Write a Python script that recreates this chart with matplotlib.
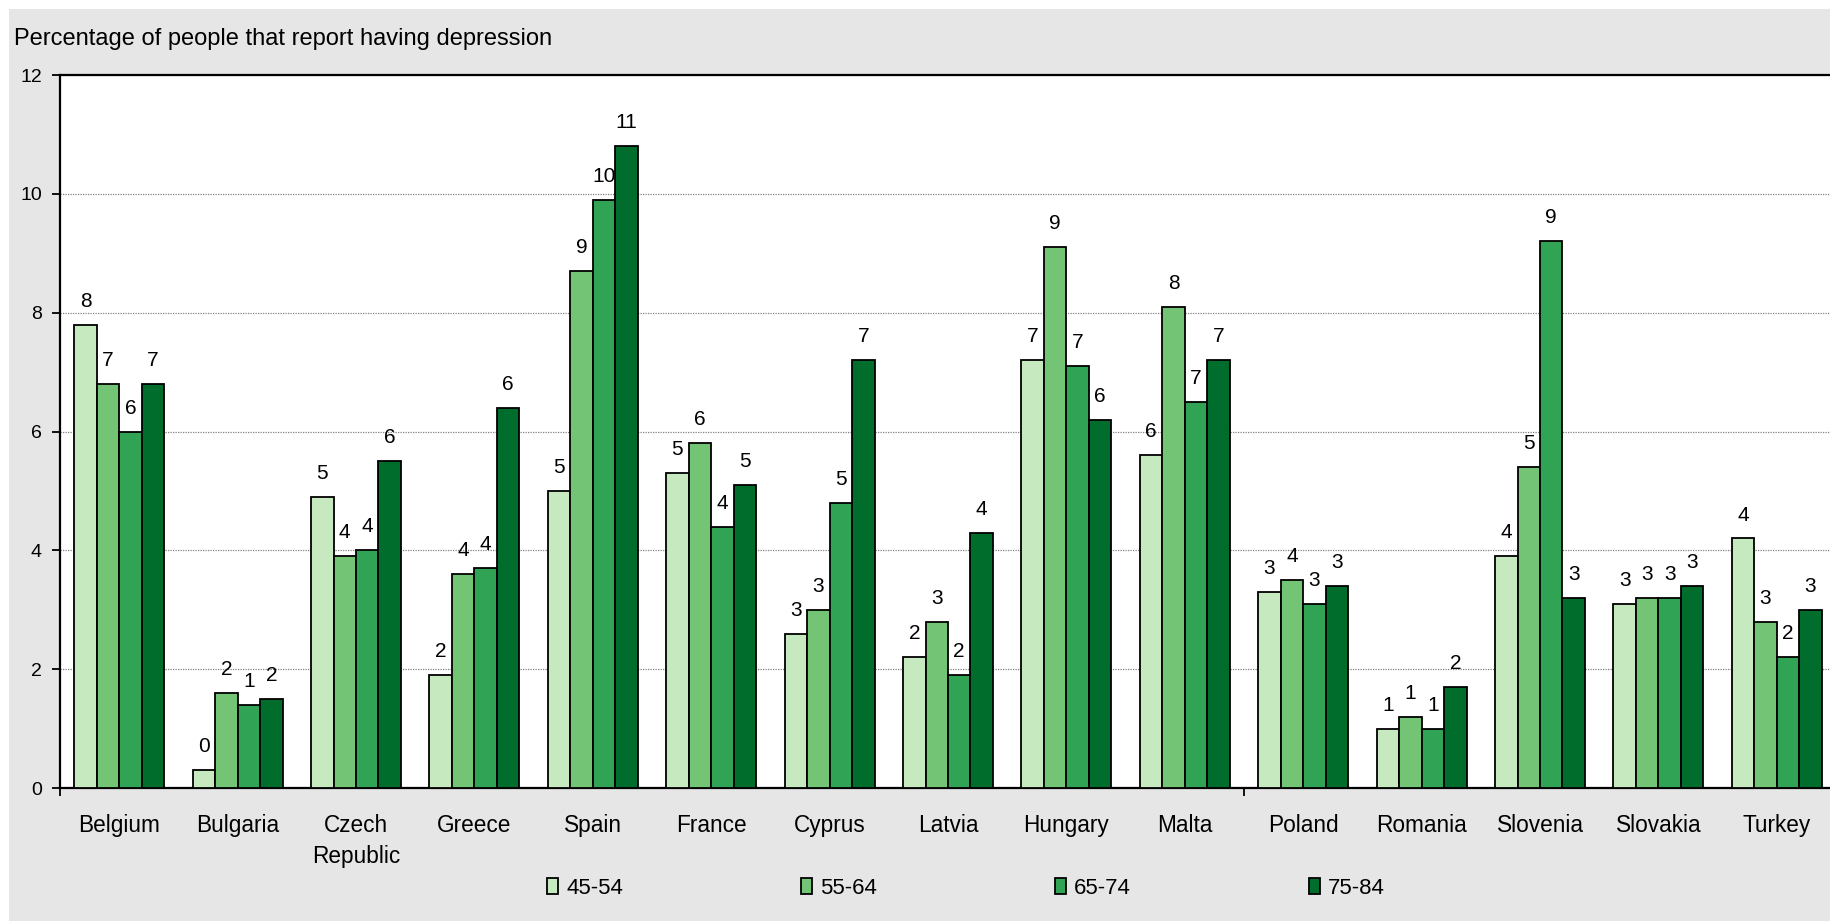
import matplotlib.pyplot as plt
from matplotlib.patches import Rectangle
import numpy as np

plt.rcParams['font.family'] = ['Liberation Sans', 'DejaVu Sans']

countries = ['Belgium', 'Bulgaria', 'Czech\nRepublic', 'Greece', 'Spain', 'France',
             'Cyprus', 'Latvia', 'Hungary', 'Malta', 'Poland', 'Romania',
             'Slovenia', 'Slovakia', 'Turkey']
age_groups = ['45-54', '55-64', '65-74', '75-84']

# Share of people reporting depression (%), by age group
age_45_54 = [7.8, 0.3, 4.9, 1.9, 5.0, 5.3, 2.6, 2.2, 7.2, 5.6, 3.3, 1.0, 3.9, 3.1, 4.2]
age_55_64 = [6.8, 1.6, 3.9, 3.6, 8.7, 5.8, 3.0, 2.8, 9.1, 8.1, 3.5, 1.2, 5.4, 3.2, 2.8]
age_65_74 = [6.0, 1.4, 4.0, 3.7, 9.9, 4.4, 4.8, 1.9, 7.1, 6.5, 3.1, 1.0, 9.2, 3.2, 2.2]
age_75_84 = [6.8, 1.5, 5.5, 6.4, 10.8, 5.1, 7.2, 4.3, 6.2, 7.2, 3.4, 1.7, 3.2, 3.4, 3.0]

series = [age_45_54, age_55_64, age_65_74, age_75_84]
colors = ['#c7e9c0', '#74c476', '#31a354', '#006d2c']

fig = plt.figure(figsize=(18.3, 9.21), dpi=100, facecolor='white')
# grey chart area with a thin white margin on top and left
fig.add_artist(Rectangle((9 / 1830, 0), 1, 1 - 9 / 921, transform=fig.transFigure,
                         facecolor='#e6e6e6', edgecolor='none', zorder=0))

ax = fig.add_axes([60 / 1830, 133 / 921, 1776 / 1830, 713 / 921])
ax.set_facecolor('white')

x = np.arange(len(countries))
width = 0.19
for i, (vals, col, lab) in enumerate(zip(series, colors, age_groups)):
    bars = ax.bar(x + (i - 1.5) * width, vals, width, color=col, edgecolor='black',
                  linewidth=1.3, label=lab, zorder=3)
    ax.bar_label(bars, labels=[str(int(v + 0.5)) for v in vals], padding=10,
                 fontsize=15, zorder=4)

ax.set_xlim(-0.5, 14.5)
ax.set_ylim(0, 12)
ax.set_yticks(range(0, 13, 2))
ax.set_xticks(x)
ax.set_xticklabels(countries, linespacing=1.45)
ax.set_xticks([-0.5, 9.5], minor=True)
ax.tick_params(axis='x', which='major', length=0, pad=18.5, labelsize=16.3)
ax.tick_params(axis='x', which='minor', length=6, width=1.3, direction='out')
ax.tick_params(axis='y', length=6, width=1.3, pad=7, labelsize=14)

ax.yaxis.grid(True, linestyle=(0, (1, 1)), color='#808080', linewidth=0.9, zorder=0)
ax.set_axisbelow(True)

for side in ['left', 'bottom', 'top']:
    ax.spines[side].set_linewidth(1.6)
    ax.spines[side].set_color('black')
ax.spines['right'].set_visible(False)

fig.text(14 / 1830, 1 - 39.5 / 921, 'Percentage of people that report having depression',
         fontsize=17, va='center', ha='left')

fig.legend(loc='center', bbox_to_anchor=(966 / 1830, 33 / 921), ncol=4, frameon=False,
           fontsize=16, handlelength=0.5, handleheight=0.75, handletextpad=0.36,
           columnspacing=8.0)

fig.savefig('out.png', dpi=100, facecolor=fig.get_facecolor())
